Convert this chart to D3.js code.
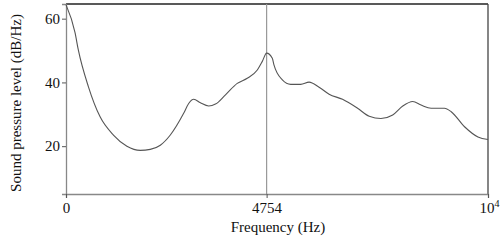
<!DOCTYPE html>
<html>
<head>
<meta charset="utf-8">
<script src="https://cdn.jsdelivr.net/npm/d3@7"></script>
<style>
  body { margin: 0; background: #fff; }
  svg { display: block; }
  svg text { font-family: "Liberation Serif", "Times New Roman", serif; }
</style>
</head>
<body>
<svg id="chart" width="502" height="240"></svg>
<script>
// spectrum
var freqs = [0, 214, 292, 530, 808, 1124, 1443, 1759, 1997, 2235, 2472, 2788, 2907, 3026, 3185, 3382, 3542, 3779, 4058, 4295, 4533, 4652, 4754, 4889, 4928, 5127, 5325, 5562, 5760, 5997, 6235, 6553, 6910, 7186, 7464, 7742, 7980, 8217, 8415, 8652, 8969, 9128, 9444, 9762, 10000];
var levels = [64.4, 55.6, 50.2, 38.7, 29.2, 23.5, 20.0, 18.7, 19.0, 20.3, 23.5, 30.3, 33.4, 34.7, 33.6, 32.6, 33.2, 36.1, 39.7, 41.3, 43.9, 46.6, 49.2, 47.6, 45.5, 40.8, 39.4, 39.4, 40.1, 38.5, 36.3, 34.7, 31.9, 29.4, 28.7, 29.8, 32.6, 34.0, 32.9, 31.9, 31.9, 30.8, 26.1, 22.9, 22.1];
var yTicks = [20, 40, 60];
var xTicks = [0, 4754, 10000];
var markFreq = 4754;

var svg = d3.select("#chart");
var margin = { left: 66, right: 14, top: 4, bottom: 46 };
var w = 502 - margin.left - margin.right;
var h = 240 - margin.top - margin.bottom;

var x = d3.scaleLinear().domain([0, 10000]).range([0, w]);
var y = d3.scaleLinear().domain([5, 64.6]).range([h, 0]);

var g = svg.append("g").attr("transform", `translate(${margin.left},${margin.top})`);

// frame: dark top/right, grey axes
g.append("line").attr("x1", 0).attr("x2", w).attr("y1", 0).attr("y2", 0)
    .attr("stroke", "#222").attr("stroke-width", 1.3);
g.append("line").attr("x1", w).attr("x2", w).attr("y1", 0).attr("y2", h)
    .attr("stroke", "#444").attr("stroke-width", 1.3);

// marker line at the peak
g.append("line").attr("x1", x(markFreq)).attr("x2", x(markFreq)).attr("y1", 0).attr("y2", h)
    .attr("stroke", "#999").attr("stroke-width", 1.2);

var yAxis = g.append("g")
    .call(d3.axisLeft(y).tickValues(yTicks).tickSize(4).tickPadding(2));
var xAxis = g.append("g").attr("transform", `translate(0,${h})`)
    .call(d3.axisBottom(x).tickValues(xTicks).tickSize(4).tickPadding(4)
        .tickFormat(d => d == 10000 ? "" : d));

[yAxis, xAxis].forEach(a => {
    a.select(".domain").attr("stroke", "#888").attr("stroke-width", 1.3);
    a.selectAll(".tick line").attr("stroke", "#555");
    a.selectAll("text").attr("font-family", null)
        .attr("font-size", 15).attr("fill", "#111");
});

// 10^4 label
var t4 = xAxis.selectAll(".tick").filter(d => d == 10000).select("text");
t4.text("10").append("tspan").attr("dy", -6).attr("font-size", 10).text("4");
t4.attr("dx", 1);

// curve
var line = d3.line()
    .x((d, i) => x(freqs[i]))
    .y(d => y(d))
    .curve(d3.curveMonotoneX);

g.append("path")
    .datum(levels)
    .attr("fill", "none")
    .attr("stroke", "#555")
    .attr("stroke-width", 1.1)
    .attr("d", line);

// axis titles
svg.append("text")
    .attr("x", margin.left + w / 2 + 1).attr("y", 232)
    .attr("text-anchor", "middle").attr("font-size", 15).attr("fill", "#111")
    .text("Frequency (Hz)");
svg.append("text")
    .attr("transform", `translate(21,${margin.top + h / 2 + 4}) rotate(-90)`)
    .attr("text-anchor", "middle").attr("font-size", 15).attr("fill", "#111")
    .text("Sound pressure level (dB/Hz)");
</script>
</body>
</html>
